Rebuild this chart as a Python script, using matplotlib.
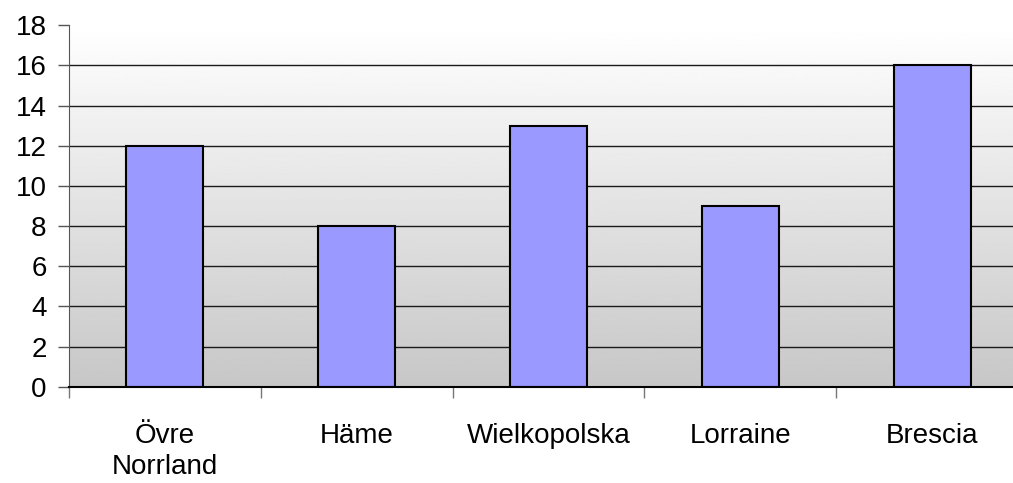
import numpy as np
import matplotlib.pyplot as plt

# data
regions = ["Övre\nNorrland", "Häme", "Wielkopolska", "Lorraine", "Brescia"]
values = [12, 8, 13, 9, 16]
yticks = [0, 2, 4, 6, 8, 10, 12, 14, 16, 18]

plt.rcParams['font.family'] = ['Liberation Sans', 'DejaVu Sans']

fig = plt.figure(figsize=(10.13, 4.83), dpi=100)
ax = fig.add_axes([0.068, 0.199, 0.947, 0.749])

# gradient background, white on top to grey at the bottom
grad = np.linspace(0.78, 1.0, 256).reshape(-1, 1)
ax.imshow(grad, cmap="gray", vmin=0, vmax=1, origin="lower", aspect="auto",
          extent=[0, 1, 0, 1], transform=ax.transAxes, zorder=0)

x = np.arange(len(regions))
ax.bar(x, values, width=0.40, color="#9999ff", edgecolor="black", linewidth=1.5, zorder=3)

ax.set_xlim(-0.5, 4.5)
ax.set_ylim(0, 18)
ax.set_yticks(yticks)
ax.tick_params(axis="y", labelsize=20, length=8, width=1, color="#555555", direction="out", pad=8)
for y in yticks[1:-1]:
    ax.axhline(y, color="#1a1a1a", linewidth=1, zorder=1)

ax.set_xticks(x)
ax.set_xticklabels(regions, fontsize=20, linespacing=1.25)
ax.tick_params(axis="x", length=0, pad=26)
ax.set_xticks(np.arange(-0.5, 4.6, 1), minor=True)
ax.tick_params(axis="x", which="minor", length=8, width=1, color="#777777")

ax.spines["top"].set_visible(False)
ax.spines["right"].set_visible(False)
ax.spines["left"].set_color("#555555")
ax.spines["bottom"].set_color("black")
ax.spines["bottom"].set_linewidth(1.5)
ax.spines["bottom"].set_zorder(4)

fig.savefig("out.png", dpi=100)
